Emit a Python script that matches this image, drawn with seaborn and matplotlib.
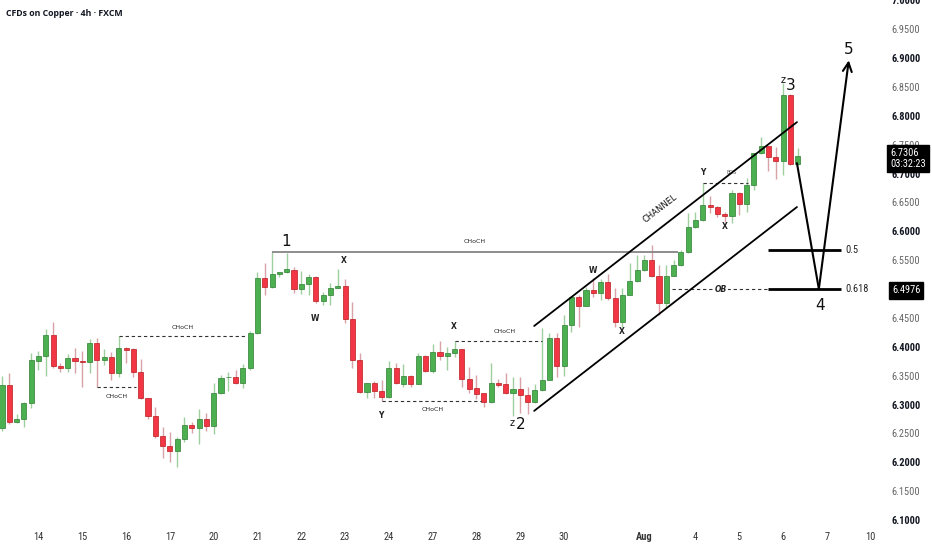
import matplotlib
matplotlib.use("Agg")
import numpy as np
import pandas as pd
import seaborn as sns
import matplotlib.pyplot as plt
from matplotlib import font_manager, transforms

# 4h candles, CFDs on Copper (FXCM)
opens = [6.260, 6.334, 6.270, 6.275, 6.303, 6.3755, 6.384, 6.420, 6.367, 6.363,
         6.381, 6.3755, 6.374, 6.407, 6.377, 6.382, 6.355, 6.398, 6.396, 6.356,
         6.3115, 6.280, 6.246, 6.228, 6.220, 6.2405, 6.265, 6.260, 6.275, 6.263,
         6.320, 6.347, 6.348, 6.337, 6.363, 6.424, 6.519, 6.5035, 6.526, 6.529,
         6.533, 6.500, 6.509, 6.521, 6.479, 6.490, 6.502, 6.505, 6.448, 6.377,
         6.322, 6.337, 6.324, 6.313, 6.363, 6.336, 6.3495, 6.336, 6.384, 6.358,
         6.391, 6.384, 6.389, 6.396, 6.344, 6.329, 6.320, 6.3045, 6.337, 6.335,
         6.320, 6.327, 6.317, 6.3045, 6.325, 6.343, 6.415, 6.367, 6.438, 6.486,
         6.471, 6.498, 6.493, 6.512, 6.4845, 6.443, 6.490, 6.514, 6.533, 6.550,
         6.5225, 6.476, 6.5225, 6.5415, 6.564, 6.607, 6.619, 6.645, 6.642, 6.630,
         6.626, 6.666, 6.647, 6.680, 6.735, 6.747, 6.728, 6.7215, 6.836, 6.716]
highs = [6.349, 6.355, 6.284, 6.3045, 6.389, 6.393, 6.431, 6.443, 6.372, 6.388,
         6.398, 6.393, 6.4135, 6.415, 6.396, 6.391, 6.419, 6.400, 6.398, 6.379,
         6.3115, 6.296, 6.261, 6.253, 6.244, 6.279, 6.270, 6.292, 6.2855, 6.337,
         6.351, 6.356, 6.360, 6.370, 6.427, 6.529, 6.545, 6.564, 6.530, 6.562,
         6.538, 6.531, 6.526, 6.5225, 6.495, 6.510, 6.535, 6.517, 6.4775, 6.389,
         6.338, 6.341, 6.343, 6.3755, 6.372, 6.370, 6.351, 6.389, 6.385, 6.405,
         6.410, 6.400, 6.410, 6.397, 6.365, 6.351, 6.320, 6.372, 6.344, 6.355,
         6.348, 6.348, 6.3305, 6.336, 6.433, 6.424, 6.424, 6.455, 6.488, 6.490,
         6.5035, 6.519, 6.517, 6.526, 6.502, 6.502, 6.545, 6.559, 6.559, 6.576,
         6.5415, 6.5415, 6.550, 6.5675, 6.6315, 6.633, 6.683, 6.661, 6.643, 6.633,
         6.671, 6.668, 6.692, 6.736, 6.763, 6.748, 6.746, 6.856, 6.837, 6.744]
lows = [6.254, 6.267, 6.268, 6.261, 6.294, 6.360, 6.3495, 6.363, 6.356, 6.356,
        6.355, 6.3305, 6.355, 6.3305, 6.369, 6.343, 6.348, 6.372, 6.348, 6.309,
        6.275, 6.242, 6.208, 6.201, 6.192, 6.235, 6.251, 6.232, 6.254, 6.249,
        6.318, 6.324, 6.336, 6.329, 6.360, 6.422, 6.490, 6.502, 6.521, 6.528,
        6.493, 6.491, 6.490, 6.476, 6.472, 6.472, 6.501, 6.441, 6.363, 6.320,
        6.3115, 6.3115, 6.306, 6.311, 6.335, 6.3305, 6.3305, 6.335, 6.356, 6.355,
        6.377, 6.360, 6.382, 6.3305, 6.320, 6.310, 6.296, 6.303, 6.3305, 6.318,
        6.280, 6.2855, 6.284, 6.303, 6.324, 6.342, 6.348, 6.3495, 6.426, 6.434,
        6.470, 6.486, 6.481, 6.481, 6.434, 6.434, 6.489, 6.512, 6.532, 6.521,
        6.455, 6.467, 6.522, 6.540, 6.562, 6.606, 6.618, 6.6315, 6.6245, 6.616,
        6.614, 6.628, 6.633, 6.671, 6.734, 6.704, 6.690, 6.697, 6.715, 6.715]
closes = [6.334, 6.270, 6.275, 6.303, 6.377, 6.384, 6.420, 6.367, 6.363, 6.381,
          6.3755, 6.374, 6.407, 6.377, 6.382, 6.355, 6.398, 6.3945, 6.356, 6.3115,
          6.280, 6.246, 6.228, 6.220, 6.2405, 6.265, 6.260, 6.275, 6.263, 6.320,
          6.346, 6.348, 6.337, 6.363, 6.424, 6.519, 6.5035, 6.526, 6.529, 6.535,
          6.500, 6.509, 6.521, 6.479, 6.490, 6.502, 6.505, 6.448, 6.377, 6.322,
          6.337, 6.324, 6.313, 6.363, 6.337, 6.3495, 6.336, 6.384, 6.358, 6.391,
          6.384, 6.389, 6.396, 6.344, 6.327, 6.318, 6.3045, 6.337, 6.334, 6.320,
          6.327, 6.317, 6.3045, 6.325, 6.343, 6.415, 6.367, 6.438, 6.486, 6.471,
          6.498, 6.493, 6.512, 6.4845, 6.443, 6.490, 6.514, 6.533, 6.550, 6.5225,
          6.476, 6.5225, 6.5415, 6.564, 6.607, 6.619, 6.645, 6.642, 6.630, 6.626,
          6.666, 6.647, 6.680, 6.735, 6.747, 6.728, 6.7215, 6.836, 6.716, 6.7306]

# session start bar for each date label
day_labels = ["14", "15", "16", "17", "20", "21", "22", "23", "24", "27", "28",
              "29", "30", "Aug", "4", "5", "6", "7", "10"]
day_bars = [5, 11, 17, 23, 29, 35, 41, 47, 53, 59, 65, 71, 77, 88, 95, 101,
            107, 113, 119]

last_price = 6.7306
countdown = "03:32:23"
level_price = 6.4976
fib_ratios = [0.5, 0.618]

GREEN, GREEN_EDGE, GREEN_WICK = "#4caf50", "#2e7d32", "#9fcf9f"
RED, RED_EDGE, RED_WICK = "#f23645", "#b71c1c", "#d9a2a8"

sns.set_theme(style="white")
names = {f.name for f in font_manager.fontManager.ttflist}
narrow = "DejaVu Sans"
for cand in ["Liberation Sans Narrow", "Roboto Condensed", "Open Sans Condensed",
             "DejaVu Sans Condensed"]:
    if cand in names:
        narrow = cand
        break
title_font = "Open Sans" if "Open Sans" in names else "DejaVu Sans"
plt.rcParams["font.family"] = ["DejaVu Sans"]
axis_font = dict(family=narrow, stretch="condensed")

df = pd.DataFrame({"open": opens, "high": highs, "low": lows, "close": closes})
df["bar"] = np.arange(len(df))
df["up"] = df["close"] >= df["open"]
df["body_lo"] = df[["open", "close"]].min(axis=1)
df["body_h"] = (df["close"] - df["open"]).abs().clip(lower=0.0015)

fig = plt.figure(figsize=(9.32, 5.5), dpi=100)
ax = fig.add_axes([0, 0, 1, 1])

ax.vlines(df["bar"], df["low"], df["high"],
          colors=np.where(df["up"], GREEN_WICK, RED_WICK), lw=1, zorder=2)
ax.bar(df["bar"], df["body_h"], bottom=df["body_lo"], width=0.7,
       color=np.where(df["up"], GREEN, RED),
       edgecolor=np.where(df["up"], GREEN_EDGE, RED_EDGE), linewidth=0.5, zorder=3)

# swing points used by the drawings
hi1 = df["high"][37]
lo2 = df["low"][64:76].min()
hi3 = df["high"].max()
fib = {r: hi3 - r * (hi3 - lo2) for r in fib_ratios}

dash = dict(color="#333333", lw=0.8, ls=(0, (3, 2.5)), zorder=4)
ax.hlines(hi1, 37, 92.6, color="#858585", lw=1.3, zorder=4)
ax.hlines(df["high"][16], 16, 33.5, **dash)
ax.hlines(df["low"][13], 13, 18.4, **dash)
ax.hlines(df["low"][52], 52, 65.6, **dash)
ax.hlines(df["high"][62], 62, 74, **dash)
ax.hlines(df["high"][96], 96, 102.2, **dash)
ax.hlines(fib[0.618], 91.8, 105, **dash)
for r in fib_ratios:
    ax.hlines(fib[r], 105, 115, color="black", lw=2, zorder=5)
    ax.text(115.6, fib[r], f"{r:g}", fontsize=7.5, ha="left", va="center",
            color="#222222", **axis_font)

# channel
chan = pd.DataFrame({"x": [72.9, 108.9], "upper": [6.436, 6.789]})
chan["lower"] = chan["upper"] - 0.147
sns.lineplot(data=chan, x="x", y="upper", ax=ax, color="black", lw=1.3, zorder=5)
sns.lineplot(data=chan, x="x", y="lower", ax=ax, color="black", lw=1.3, zorder=5)
ax.text(90.1, 6.640, "CHANNEL", fontsize=6, rotation=37.8, ha="center",
        va="center", rotation_mode="anchor", color="#111111")

# projected wave 4 -> 5
wave = pd.DataFrame({"x": [108.9, 111.9, 116.0], "y": [6.718, fib[0.618], 6.896]})
sns.lineplot(data=wave.iloc[:2], x="x", y="y", ax=ax, sort=False, color="black",
             lw=1.5, zorder=6)
ax.annotate("", xy=(wave["x"][2], wave["y"][2]), xytext=(wave["x"][1], wave["y"][1]),
            arrowprops=dict(arrowstyle="->", lw=1.5, color="black",
                            mutation_scale=16, shrinkA=0, shrinkB=0), zorder=6)

# labels
big = dict(fontsize=11, ha="center", va="center", color="#111111", zorder=7)
for x, y, s in [(38.9, 6.583, "1"), (71.0, 6.266, "2"), (108.1, 6.853, "3"),
                (112.05, 6.472, "4"), (116.0, 6.914, "5")]:
    ax.text(x, y, s, **big)
for x, y in [(69.9, 6.268), (107.0, 6.862)]:
    ax.text(x, y, "z", fontsize=7, ha="center", va="center", color="#111111")
small = dict(fontsize=5.5, fontweight="bold", ha="center", va="center", color="#222222")
for x, y, s in [(46.8, 6.550, "X"), (42.9, 6.4495, "W"), (51.9, 6.2817, "Y"),
                (61.9, 6.4356, "X"), (81.0, 6.5325, "W"), (84.9, 6.427, "X"),
                (96.0, 6.702, "Y"), (99.0, 6.609, "X")]:
    ax.text(x, y, s, **small)
ax.text(100.0, 6.702, "BOS", fontsize=3.5, ha="center", va="center", color="#555555")
for x, y in [(64.8, 6.583), (24.8, 6.434), (15.75, 6.3145), (59.0, 6.292), (68.9, 6.427)]:
    ax.text(x, y, "CHoCH", fontsize=4.5, ha="center", va="center", color="#222222")
ax.text(98.5, fib[0.618], "OB", fontsize=5.5, fontweight="bold", style="italic",
        ha="center", va="center", color="#222222", zorder=6,
        bbox=dict(boxstyle="square,pad=0.15", fc="white", ec="none"))

# axes styling
ax.set_xlim(-0.27, 127.4)
ax.set_ylim(6.0481, 7.0005)
for sp in ax.spines.values():
    sp.set_visible(False)
ax.set_xlabel("")
ax.set_ylabel("")

ax.set_xticks(day_bars)
ax.set_xticklabels(day_labels)
ax.tick_params(axis="x", length=0, pad=-13, labelsize=7.5, labelcolor="#333333")
for t in ax.get_xticklabels():
    t.set_family(narrow)
    t.set_fontstretch("condensed")
    if t.get_text() == "Aug":
        t.set_fontweight("bold")

yt = np.arange(610, 701, 5) / 100
ax.yaxis.tick_right()
ax.set_yticks(yt)
ax.set_yticklabels([f"{v:.4f}" for v in yt])
ax.tick_params(axis="y", length=0, pad=-29, labelsize=7.5)
for v, t in zip(yt, ax.get_yticklabels()):
    t.set_family(narrow)
    t.set_fontstretch("condensed")
    if round(v * 100) % 10 == 0:
        t.set_fontweight("bold")
        t.set_color("#131722")
    else:
        t.set_color("#666666")

blend = transforms.blended_transform_factory(ax.transAxes, ax.transData)
box = dict(boxstyle="square,pad=0.3", fc="black", ec="black")
ax.annotate(f"{last_price:.4f}\n{countdown}", xy=(0.955, last_price), xycoords=blend,
            xytext=(0, 5.5), textcoords="offset points", ha="left", va="top",
            fontsize=7.5, color="white", linespacing=1.05,
            bbox=box, zorder=10, annotation_clip=False, **axis_font)
ax.text(0.957, level_price, f"{level_price:.4f}", transform=blend, ha="left",
        va="center", fontsize=7.5, color="white", bbox=box, zorder=10, **axis_font)

fig.text(0.006, 0.976, "CFDs on Copper · 4h · FXCM", fontsize=6.3, fontweight="bold",
         family=title_font, color="#131722", va="center")

fig.savefig("out.png", dpi=100)
